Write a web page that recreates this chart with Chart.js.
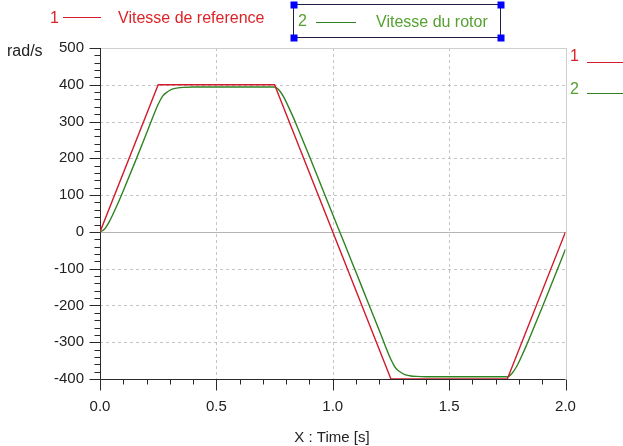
<!DOCTYPE html>
<html>
<head>
<meta charset="utf-8">
<script src="https://cdn.jsdelivr.net/npm/chart.js@4/dist/chart.umd.min.js"></script>
<style>
  html, body { margin: 0; padding: 0; background: #fff; }
  #wrap { width: 623px; height: 446px; }
</style>
</head>
<body>
<div id="wrap"><canvas id="myChart" width="623" height="446"></canvas></div>
<script>
// reference speed (trapezoid)
const refTime  = [0, 0.25, 0.75, 1.25, 1.75, 2.0];
const refSpeed = [0, 400, 400, -400, -400, 0];

// rotor speed
const rotorTime  = [0, 0.02, 0.04, 0.06, 0.08, 0.10, 0.15, 0.20, 0.25, 0.27, 0.29, 0.31, 0.33, 0.36, 0.40, 0.50,
                    0.75, 0.77, 0.79, 0.81, 0.83, 0.85, 0.90, 0.95, 1.00, 1.05, 1.10, 1.15, 1.20, 1.25,
                    1.27, 1.29, 1.31, 1.33, 1.36, 1.40, 1.50,
                    1.75, 1.77, 1.79, 1.81, 1.83, 1.85, 1.90, 1.95, 2.00];
const rotorSpeed = [0, 8, 28, 54, 82, 112, 189, 268, 347, 370, 381, 388, 391, 393, 394, 394,
                    394, 385, 366, 340, 312, 282, 205, 126, 47, -31, -110, -189, -268, -347,
                    -370, -381, -388, -391, -393, -394, -394,
                    -394, -385, -366, -340, -312, -282, -205, -126, -47];

const xTicks = [0, 0.5, 1.0, 1.5, 2.0];
const yTicks = [-400, -300, -200, -100, 0, 100, 200, 300, 400, 500];

const RED = '#d01c2c', RED_TXT = '#dc2428';
const GREEN = '#2f8422', GREEN_TXT = '#55a030';
const FONT = '"Liberation Sans", Arial, sans-serif';

function pts(xs, ys) {
  return xs.map((x, i) => ({ x: x, y: ys[i] }))
}

const decor = {
  id: 'decor',
  beforeDatasetsDraw(chart) {
    const ctx = chart.ctx, a = chart.chartArea;
    const xs = chart.scales.x, ys = chart.scales.y;
    ctx.save();
    // grid
    ctx.lineWidth = 1;
    ctx.strokeStyle = '#c4c4c4';
    ctx.setLineDash([3, 3]);
    yTicks.forEach((v) => {
      if (v == 0 || v == 500 || v == -400) return;
      let y = Math.round(ys.getPixelForValue(v)) + 0.5;
      ctx.beginPath(); ctx.moveTo(a.left, y); ctx.lineTo(a.right, y); ctx.stroke();
    });
    xTicks.forEach((v) => {
      if (v == 0 || v == 2) return;
      let x = Math.round(xs.getPixelForValue(v)) + 0.5;
      ctx.beginPath(); ctx.moveTo(x, a.top); ctx.lineTo(x, a.bottom); ctx.stroke();
    });
    ctx.setLineDash([]);
    // zero line + top/right border
    ctx.strokeStyle = '#b4b4b4';
    let y0 = Math.round(ys.getPixelForValue(0)) + 0.5;
    ctx.beginPath(); ctx.moveTo(a.left, y0); ctx.lineTo(a.right, y0); ctx.stroke();
    ctx.strokeStyle = '#cfcfcf';
    ctx.beginPath();
    ctx.moveTo(a.left, Math.round(a.top) + 0.5); ctx.lineTo(Math.round(a.right) + 0.5, Math.round(a.top) + 0.5);
    ctx.lineTo(Math.round(a.right) + 0.5, a.bottom);
    ctx.stroke();

    // axes with major / minor ticks
    ctx.strokeStyle = '#2a2a2a';
    let xl = Math.round(a.left) + 0.5, yb = Math.round(a.bottom) + 0.5;
    ctx.beginPath();
    ctx.moveTo(xl, a.top); ctx.lineTo(xl, yb); ctx.lineTo(a.right, yb);
    for (let v = -400; v <= 500; v += 20) {
      let y = Math.round(ys.getPixelForValue(v)) + 0.5;
      let len = (v % 100 == 0) ? 11 : 6;
      ctx.moveTo(xl - len, y); ctx.lineTo(xl, y);
    }
    for (let k = 0; k <= 20; k++) {
      let v = k / 10;
      let x = Math.round(xs.getPixelForValue(v)) + 0.5;
      let len = (k % 5 == 0) ? 11 : 5;
      ctx.moveTo(x, yb); ctx.lineTo(x, yb + len);
    }
    ctx.stroke();
    ctx.restore();
  },
  afterDraw(chart) {
    const ctx = chart.ctx;
    ctx.save();
    ctx.textBaseline = 'middle';
    ctx.font = '16px ' + FONT;
    ctx.fillStyle = '#222';
    ctx.textAlign = 'left';
    ctx.fillText('rad/s', 7, 52);
    ctx.font = '15px ' + FONT;
    ctx.textAlign = 'center';
    ctx.fillText('X : Time [s]', 332, 438);

    ctx.font = '16px ' + FONT;
    // top legend, curve 1
    ctx.textAlign = 'left';
    ctx.fillStyle = RED_TXT;
    ctx.fillText('1', 50, 19);
    ctx.fillText('Vitesse de reference', 118, 19);
    ctx.strokeStyle = RED; ctx.lineWidth = 1.2;
    ctx.beginPath(); ctx.moveTo(63, 17.5); ctx.lineTo(101, 17.5); ctx.stroke();

    // top legend, curve 2 in the selected box
    ctx.fillStyle = GREEN_TXT;
    ctx.fillText('2', 298, 22);
    ctx.fillText('Vitesse du rotor', 376, 23);
    ctx.strokeStyle = GREEN;
    ctx.beginPath(); ctx.moveTo(316, 22.5); ctx.lineTo(356, 22.5); ctx.stroke();
    ctx.strokeStyle = '#1e1e46'; ctx.lineWidth = 1;
    ctx.strokeRect(293.5, 4.5, 207, 33);
    ctx.fillStyle = '#0000ff';
    [[294, 5], [501, 5], [294, 38], [501, 38]].forEach((p) => ctx.fillRect(p[0] - 3.5, p[1] - 3.5, 7, 7));

    // right side labels
    ctx.fillStyle = RED_TXT;
    ctx.fillText('1', 570, 57);
    ctx.strokeStyle = RED; ctx.lineWidth = 1.2;
    ctx.beginPath(); ctx.moveTo(587, 62.5); ctx.lineTo(623, 62.5); ctx.stroke();
    ctx.fillStyle = GREEN_TXT;
    ctx.fillText('2', 570, 90);
    ctx.strokeStyle = GREEN;
    ctx.beginPath(); ctx.moveTo(587, 93.5); ctx.lineTo(623, 93.5); ctx.stroke();
    ctx.restore();
  }
};

var ctx = document.getElementById('myChart').getContext('2d');
var myChart = new Chart(ctx, {
  type: 'line',
  data: {
    datasets: [{
      label: 'Vitesse de reference',
      data: pts(refTime, refSpeed),
      borderColor: RED,
      borderWidth: 1.4,
      pointRadius: 0,
      tension: 0,
      fill: false
    }, {
      label: 'Vitesse du rotor',
      data: pts(rotorTime, rotorSpeed),
      borderColor: GREEN,
      borderWidth: 1.4,
      pointRadius: 0,
      cubicInterpolationMode: 'monotone',
      fill: false
    }]
  },
  options: {
    responsive: false,
    animation: false,
    layout: { padding: { left: 0, top: 48, right: 57.5, bottom: 0 } },
    plugins: { legend: { display: false }, tooltip: { enabled: false } },
    scales: {
      x: {
        type: 'linear', min: 0, max: 2,
        afterFit: (s) => { s.height = 67 },
        afterBuildTicks: (s) => { s.ticks = xTicks.map((v) => ({ value: v })) },
        grid: { display: false, drawTicks: false },
        border: { display: false },
        ticks: {
          padding: 19, color: '#222', maxRotation: 0,
          font: { family: FONT, size: 15 },
          callback: (v) => Number(v).toFixed(1)
        }
      },
      y: {
        min: -400, max: 500,
        afterFit: (s) => { s.width = 100 },
        afterBuildTicks: (s) => { s.ticks = yTicks.map((v) => ({ value: v })) },
        grid: { display: false, drawTicks: false },
        border: { display: false },
        ticks: {
          padding: 16, color: '#222',
          font: { family: FONT, size: 15 },
          callback: (v) => String(v)
        }
      }
    }
  },
  plugins: [decor]
});
</script>
</body>
</html>
